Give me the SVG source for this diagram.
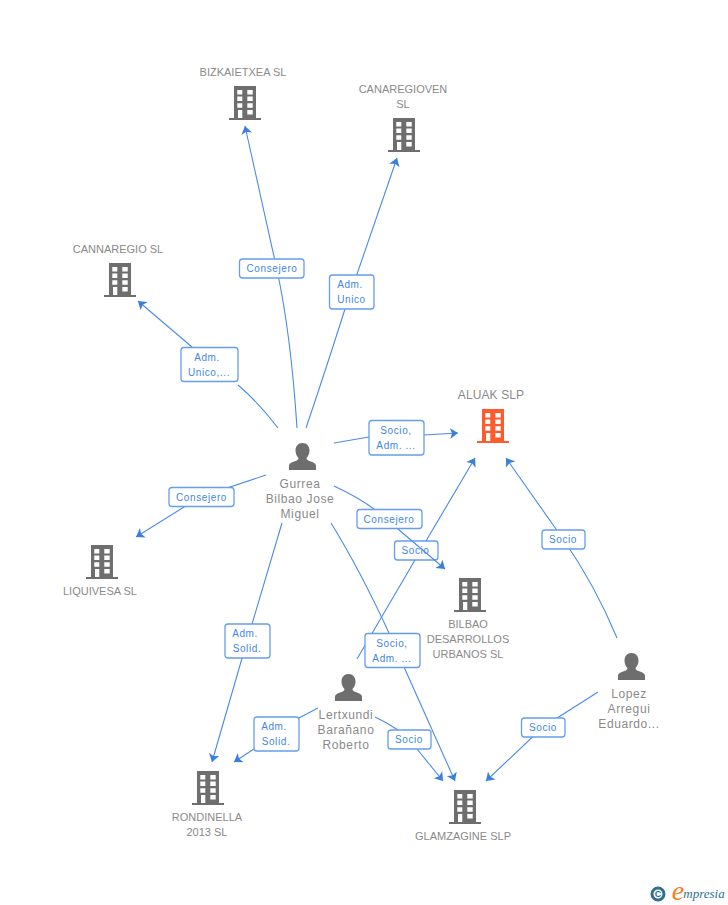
<svg xmlns="http://www.w3.org/2000/svg" xmlns:xlink="http://www.w3.org/1999/xlink" width="728" height="905" viewBox="0 0 728 905">
<style>
text{font-family:"Liberation Sans",Arial,sans-serif;text-anchor:middle}
.n{font-size:11px;fill:#8a8a8a;letter-spacing:0}
.p{font-size:12px;fill:#8a8a8a;letter-spacing:.6px}
.l{font-size:10px;fill:#3f86e6;letter-spacing:.6px}
.c{fill:none;stroke:#4a8ae6;stroke-width:1.1}
.b{fill:#fff;stroke:#669ded;stroke-width:1.3}
.g{fill:#6e6e6e}
.o{fill:#ff5a2c}
</style>
<defs>
<marker id="a" markerUnits="userSpaceOnUse" markerWidth="10" markerHeight="12" viewBox="0 0 10 12" refX="8" refY="6" orient="auto"><path d="M0 0.500L8 6L0 11.500L2 6Z" fill="#3a7fe0"/></marker>
<path id="bld" fill-rule="evenodd" d="M5 0H27V32H32V34H0V32H5ZM8.300 4V8.500H13.300V4ZM18.300 4V8.500H23.700V4ZM8.300 10.600V15.100H13.300V10.600ZM18.300 10.600V15.100H23.700V10.600ZM8.300 17.300V21.800H13.300V17.300ZM18.300 17.300V21.800H23.700V17.300ZM9 24V32H13.300V24ZM18.300 24V28.500H23.700V24Z"/>
<path id="per" d="M13.500 0C18 0 20.500 3.500 20.500 7.500C20.500 10.500 19.300 13 17.500 15C17.500 16.500 18.500 17.300 20.500 18C24.500 19.300 27 20.500 27 23V27H0V23C0 20.500 2.500 19.300 6.500 18C8.500 17.300 9.500 16.500 9.500 15C7.700 13 6.500 10.500 6.500 7.500C6.500 3.500 9 0 13.500 0Z"/>
</defs>
<g id="label-socio-lertxundi"><rect class="b" x="394.500" y="541" width="43.500" height="19" rx="3"/><text class="l" x="415.500" y="554">Socio</text></g>
<g id="connectors">
<path class="c" marker-end="url(#a)" d="M297 428Q291 335 277 270L245 126"/>
<path class="c" marker-end="url(#a)" d="M306 428Q325 372 345 309L397 158"/>
<path class="c" d="M278 428Q258 402 238 385"/><path class="c" marker-end="url(#a)" d="M192 347L138 301"/>
<path class="c" d="M334 443L369 437"/><path class="c" marker-end="url(#a)" d="M424 435L458 433"/>
<path class="c" marker-end="url(#a)" d="M266 475L200 497L136 537"/>
<path class="c" marker-end="url(#a)" d="M334 486Q360 498 378 512L445 569"/>
<path class="c" marker-end="url(#a)" d="M282 523L247 641L212 762"/>
<path class="c" d="M331 523Q360 570 389 633"/><path class="c" marker-end="url(#a)" d="M404 667L455 781"/>
<path class="c" d="M357 659L415 560"/><path class="c" marker-end="url(#a)" d="M426 541L475 458"/>
<path class="c" d="M318 708L299 718"/><path class="c" marker-end="url(#a)" d="M254 749L234 762"/>
<path class="c" d="M375 717Q386 722 398 730"/><path class="c" marker-end="url(#a)" d="M417 749L443 781"/>
<path class="c" marker-end="url(#a)" d="M617 638Q595 585 563 539L506 458"/>
<path class="c" marker-end="url(#a)" d="M598 692L543 727L486 781"/>
</g>
<g id="labels">
<g><rect class="b" x="239.500" y="259" width="64.500" height="19" rx="3"/><text class="l" x="272" y="272">Consejero</text></g>
<g><rect class="b" x="329.500" y="275" width="44.500" height="34" rx="3"/><text class="l" x="350" y="288">Adm.</text><text class="l" x="351.500" y="303">Unico</text></g>
<g><rect class="b" x="181" y="347.500" width="57" height="34" rx="3"/><text class="l" x="207" y="361">Adm.</text><text class="l" x="209" y="376">Unico,...</text></g>
<g><rect class="b" x="369" y="420.500" width="55" height="34.500" rx="3"/><text class="l" x="396" y="434">Socio,</text><text class="l" x="396" y="449">Adm. ...</text></g>
<g><rect class="b" x="169" y="487.500" width="65" height="19" rx="3"/><text class="l" x="201.500" y="500.500">Consejero</text></g>
<g><rect class="b" x="357" y="509.500" width="65" height="19" rx="3"/><text class="l" x="389" y="522.500">Consejero</text></g>
<g><rect class="b" x="542" y="530" width="43" height="19" rx="3"/><text class="l" x="563" y="543">Socio</text></g>
<g><rect class="b" x="225" y="624" width="45" height="34" rx="3"/><text class="l" x="245" y="637">Adm.</text><text class="l" x="247" y="652">Solid.</text></g>
<g><rect class="b" x="365" y="633.500" width="55" height="34" rx="3"/><text class="l" x="392" y="646.500">Socio,</text><text class="l" x="392" y="661.500">Adm. ...</text></g>
<g><rect class="b" x="254" y="717" width="45" height="34" rx="3"/><text class="l" x="274" y="730">Adm.</text><text class="l" x="276" y="745">Solid.</text></g>
<g><rect class="b" x="388" y="730" width="43" height="19" rx="3"/><text class="l" x="409" y="743">Socio</text></g>
<g><rect class="b" x="521.500" y="718" width="43.500" height="19" rx="3"/><text class="l" x="543" y="731">Socio</text></g>
</g>
<g id="n-bizkaietxea"><use xlink:href="#bld" href="#bld" class="g" x="229" y="86"/><text class="n" x="243" y="76">BIZKAIETXEA SL</text></g>
<g id="n-canaregioven"><use xlink:href="#bld" href="#bld" class="g" x="388" y="118"/><text class="n" x="403" y="93">CANAREGIOVEN</text><text class="n" x="403" y="108">SL</text></g>
<g id="n-cannaregio"><use xlink:href="#bld" href="#bld" class="g" x="104" y="263"/><text class="n" x="118" y="253">CANNAREGIO SL</text></g>
<g id="n-aluak"><use xlink:href="#bld" href="#bld" class="o" x="477" y="409"/><text class="p" x="491" y="399" style="letter-spacing:.1px">ALUAK SLP</text></g>
<g id="n-liquivesa"><use xlink:href="#bld" href="#bld" class="g" x="86" y="545"/><text class="n" x="100" y="595">LIQUIVESA SL</text></g>
<g id="n-bilbao"><use xlink:href="#bld" href="#bld" class="g" x="454" y="578"/><text class="n" x="468" y="628">BILBAO</text><text class="n" x="468" y="643">DESARROLLOS</text><text class="n" x="468" y="658">URBANOS SL</text></g>
<g id="n-rondinella"><use xlink:href="#bld" href="#bld" class="g" x="192" y="771"/><text class="n" x="207" y="821">RONDINELLA</text><text class="n" x="207" y="836">2013 SL</text></g>
<g id="n-glamzagine"><use xlink:href="#bld" href="#bld" class="g" x="449" y="790"/><text class="n" x="463" y="840">GLAMZAGINE SLP</text></g>
<g id="n-gurrea"><use xlink:href="#per" href="#per" class="g" x="289" y="443"/><text class="p" x="300" y="488">Gurrea</text><text class="p" x="300" y="503">Bilbao Jose</text><text class="p" x="300" y="518">Miguel</text></g>
<g id="n-lertxundi"><use xlink:href="#per" href="#per" class="g" x="335" y="674"/><text class="p" x="346" y="719">Lertxundi</text><text class="p" x="346" y="734">Barañano</text><text class="p" x="346" y="749">Roberto</text></g>
<g id="n-lopez"><use xlink:href="#per" href="#per" class="g" x="618" y="653"/><text class="p" x="629" y="698">Lopez</text><text class="p" x="629" y="713">Arregui</text><text class="p" x="629" y="728">Eduardo...</text></g>
<g id="logo"><circle cx="658" cy="894" r="6" fill="none" stroke="#2f6f8f" stroke-width="3"/><text x="658" y="897" style="font-size:9px;font-weight:bold;fill:#2f6f8f">C</text><text x="678" y="900" style="font-family:'Liberation Serif',serif;font-style:italic;font-size:28px;fill:#f58220">e</text><text x="704" y="898" style="font-family:'Liberation Serif',serif;font-style:italic;font-size:13px;fill:#2f6f8f">mpresia</text></g>
</svg>
